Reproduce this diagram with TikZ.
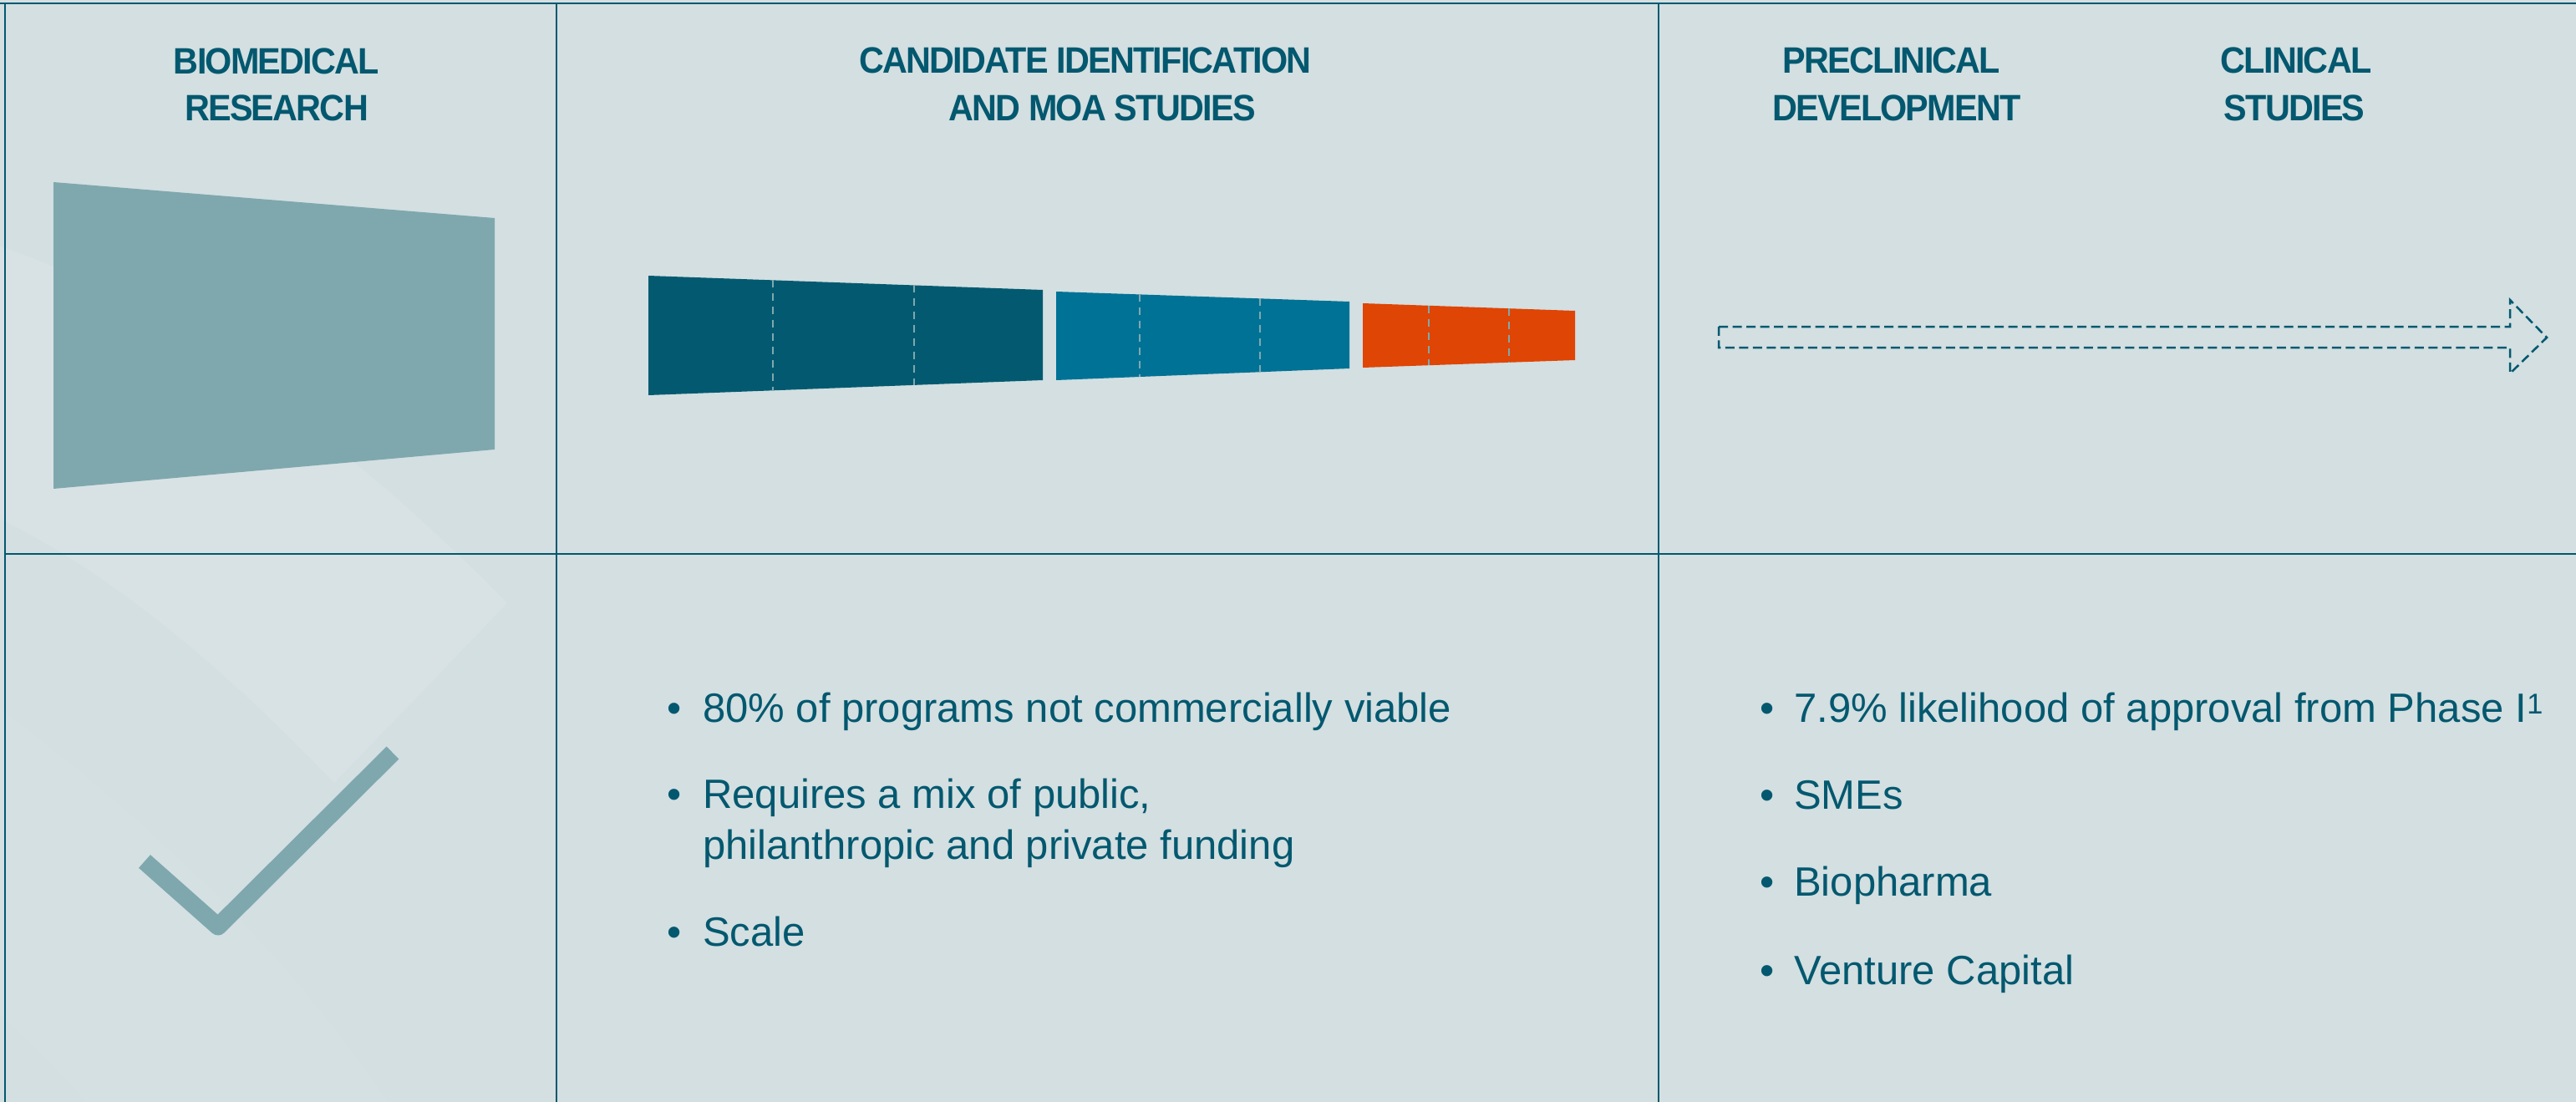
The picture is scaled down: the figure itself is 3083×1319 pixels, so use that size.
\documentclass[tikz,border=0pt]{standalone}
\usepackage{fontspec}
\setmainfont{Liberation Sans}
\newfontfamily\headfont[FakeStretch=0.94,LetterSpace=-4]{Liberation Sans}
\usetikzlibrary{calc}
\definecolor{bgc}{HTML}{D3DFE1}
\definecolor{ink}{HTML}{03586F}
\definecolor{sage}{HTML}{7FA8AE}
\definecolor{barA}{HTML}{035A70}
\definecolor{barB}{HTML}{007296}
\definecolor{barC}{HTML}{DF4504}
\begin{document}
\begin{tikzpicture}[x=1pt,y=-1pt,
  head/.style={font=\headfont\bfseries\fontsize{44}{50}\selectfont, text=ink, inner sep=0pt, anchor=base},
  body/.style={font=\fontsize{49}{60}\selectfont, text=ink, inner sep=0pt, anchor=base west},
  bul/.style={font=\fontsize{49}{60}\selectfont, text=ink, inner sep=0pt, anchor=base},
  gridline/.style={draw=ink, line width=2.3pt},
  seg/.style={draw=sage, line width=2pt, dash pattern=on 9pt off 7pt},
  shade/.style={fill=white, opacity=0.12, draw=none}
]
\useasboundingbox (0,0) rectangle (3083,1319);
\fill[bgc] (0,0) rectangle (3083,1319);

% faint watermark swooshes
\fill[shade] (0,295) .. controls (200,360) and (450,560) .. (607,722)
  -- (400,937) .. controls (250,780) and (120,680) .. (0,621) -- cycle;
\fill[shade, opacity=0.05] (0,849) .. controls (150,960) and (330,1120) .. (464,1319)
  -- (103,1319) .. controls (70,1280) and (30,1240) .. (0,1215) -- cycle;

% grid
\draw[gridline] (0,4) -- (3083,4);
\draw[gridline] (6,3) -- (6,1319);
\draw[gridline] (666,4) -- (666,1319);
\draw[gridline] (1985,4) -- (1985,1319);
\draw[gridline] (6,663) -- (3083,663);

% headings
\node[head] (h1a) at (331,89) {BIOMEDICAL};
\node[head] (h1b) at (331,145) {RESEARCH};
\node[head] (h2a) at (1299,88) {CANDIDATE IDENTIFICATION};
\node[head] (h2b) at (1319,144) {AND MOA STUDIES};
\node[head] (h3a) at (2264,88) {PRECLINICAL};
\node[head] (h3b) at (2270,144) {DEVELOPMENT};
\node[head] (h4a) at (2748,88) {CLINICAL};
\node[head] (h4b) at (2746,144) {STUDIES};

% research trapezoid
\fill[sage] (64,218) -- (592,261) -- (592,538) -- (64,585) -- cycle;

% funnel bars
\coordinate (atl) at (776,330); \coordinate (atr) at (1248,347);
\coordinate (abl) at (776,473); \coordinate (abr) at (1248,455);
\coordinate (btl) at (1264,349); \coordinate (btr) at (1615,361);
\coordinate (bbl) at (1264,455); \coordinate (bbr) at (1615,441);
\coordinate (ctl) at (1631,363); \coordinate (ctr) at (1885,372);
\coordinate (cbl) at (1631,440); \coordinate (cbr) at (1885,431);
\fill[barA] (atl) -- (atr) -- (abr) -- (abl) -- cycle;
\fill[barB] (btl) -- (btr) -- (bbr) -- (bbl) -- cycle;
\fill[barC] (ctl) -- (ctr) -- (cbr) -- (cbl) -- cycle;
\foreach \t in {0.316,0.674}
  \draw[seg] ($(atl)!\t!(atr)$) -- ($(abl)!\t!(abr)$);
\foreach \t in {0.285,0.695}
  \draw[seg] ($(btl)!\t!(btr)$) -- ($(bbl)!\t!(bbr)$);
\foreach \t in {0.311,0.689}
  \draw[seg] ($(ctl)!\t!(ctr)$) -- ($(cbl)!\t!(cbr)$);

% dashed arrow
\draw[draw=ink, line width=2.5pt, dash pattern=on 11pt off 5.5pt]
  (2057,391) -- (3004,391) -- (3004,359) -- (3048,404) -- (3004,447)
  -- (3004,416) -- (2057,416) -- cycle;

% check mark
\draw[sage, line width=21pt, line join=round, line cap=butt]
  (173,1031) -- (261,1109) -- (470,901);

% middle bullets
\node[bul] (m1d) at (807,864) {•};
\node[body] (m1) at (841,864) {80\% of programs not commercially viable};
\node[bul] (m2d) at (807,967) {•};
\node[body] (m2) at (841,967) {Requires a mix of public,};
\node[body] (m2b) at (841,1028) {philanthropic and private funding};
\node[bul] (m3d) at (807,1132) {•};
\node[body] (m3) at (841,1132) {Scale};

% right bullets
\node[bul] (r1d) at (2115,864) {•};
\node[body] (r1) at (2147,864) {7.9\% likelihood of approval from Phase I\textsuperscript{1}};
\node[bul] (r2d) at (2115,968) {•};
\node[body] (r2) at (2147,968) {SMEs};
\node[bul] (r3d) at (2115,1072) {•};
\node[body] (r3) at (2147,1072) {Biopharma};
\node[bul] (r4d) at (2115,1178) {•};
\node[body] (r4) at (2147,1178) {Venture Capital};
\end{tikzpicture}
\end{document}
